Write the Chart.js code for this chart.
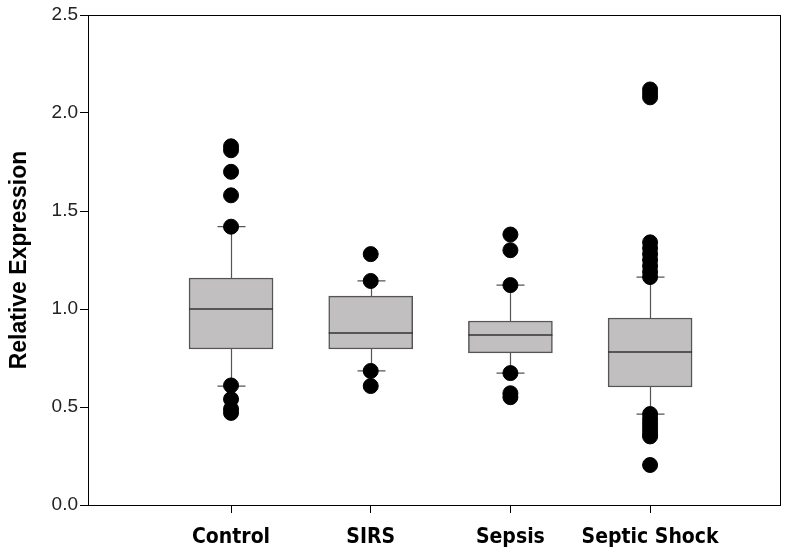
<!DOCTYPE html>
<html>
<head>
<meta charset="utf-8">
<script src="https://cdn.jsdelivr.net/npm/chart.js@4"></script>
<style>
  html, body { margin: 0; padding: 0; background: #ffffff; }
  #wrap { width: 800px; height: 556px; }
</style>
</head>
<body>
<div id="wrap"><canvas id="boxChart" width="800" height="556"></canvas></div>
<script>
// Box plot values
const categories = ['Control', 'SIRS', 'Sepsis', 'Septic Shock'];
const q1 = [0.796, 0.796, 0.776, 0.602];
const median = [1.0, 0.878, 0.867, 0.781];
const q3 = [1.158, 1.066, 0.939, 0.954];
const whiskerLow = [0.607, 0.684, 0.673, 0.464];
const whiskerHigh = [1.42, 1.143, 1.122, 1.163];
const outControl = [1.83, 1.81, 1.70, 1.58, 1.42, 0.61, 0.54, 0.49, 0.47];
const outSirs = [1.28, 1.143, 0.684, 0.607];
const outSepsis = [1.38, 1.30, 1.122, 0.673, 0.57, 0.55];
const outShock = [2.12, 2.10, 2.08, 1.34, 1.31, 1.28, 1.25, 1.22, 1.19, 1.163,
                  0.464, 0.44, 0.42, 0.40, 0.38, 0.36, 0.35, 0.204];
const yTicks = [0, 0.5, 1.0, 1.5, 2.0, 2.5];

const outliers = [outControl, outSirs, outSepsis, outShock];
const outlierPoints = [];
outliers.forEach((list, i) => {
  list.forEach(v => outlierPoints.push({ x: i + 1, y: v }));
});

const boxWidth = 84;
const capHalf = 14;

// whiskers under the boxes, medians and frame on top
const boxParts = {
  id: 'boxParts',
  beforeDatasetsDraw(chart) {
    const ctx = chart.ctx;
    const xs = chart.scales.x, ys = chart.scales.y;
    ctx.save();
    ctx.strokeStyle = '#555555';
    ctx.lineWidth = 1.2;
    categories.forEach((c, i) => {
      const px = Math.round(xs.getPixelForValue(i + 1)) + 0.5;
      const hi = ys.getPixelForValue(whiskerHigh[i]);
      const lo = ys.getPixelForValue(whiskerLow[i]);
      ctx.beginPath();
      ctx.moveTo(px, ys.getPixelForValue(q3[i]));
      ctx.lineTo(px, hi);
      ctx.moveTo(px, ys.getPixelForValue(q1[i]));
      ctx.lineTo(px, lo);
      ctx.moveTo(px - capHalf, hi);
      ctx.lineTo(px + capHalf, hi);
      ctx.moveTo(px - capHalf, lo);
      ctx.lineTo(px + capHalf, lo);
      ctx.stroke();
    });
    ctx.restore();
  },
  afterDatasetsDraw(chart) {
    const ctx = chart.ctx;
    const xs = chart.scales.x, ys = chart.scales.y;
    ctx.save();
    ctx.strokeStyle = '#333333';
    ctx.lineWidth = 1.5;
    categories.forEach((c, i) => {
      const px = xs.getPixelForValue(i + 1);
      const py = ys.getPixelForValue(median[i]);
      ctx.beginPath();
      ctx.moveTo(px - boxWidth / 2, py);
      ctx.lineTo(px + boxWidth / 2, py);
      ctx.stroke();
    });
    const a = chart.chartArea;
    ctx.strokeStyle = '#000000';
    ctx.lineWidth = 1;
    ctx.strokeRect(a.left + 0.5, a.top + 0.5, a.right - a.left, a.bottom - a.top);
    ctx.restore();
  }
};

const ctx = document.getElementById('boxChart');
new Chart(ctx, {
  data: {
    datasets: [
      {
        type: 'scatter',
        data: outlierPoints,
        backgroundColor: '#000000',
        borderColor: '#000000',
        pointRadius: 7.5,
        pointHoverRadius: 7.5
      },
      {
        type: 'bar',
        data: categories.map((c, i) => ({ x: i + 1, y: [q1[i], q3[i]] })),
        backgroundColor: '#c1bfc0',
        borderColor: '#555555',
        borderWidth: 1.5,
        borderSkipped: false,
        barThickness: boxWidth
      }
    ]
  },
  options: {
    responsive: false,
    animation: false,
    layout: { padding: { left: 0, right: 20, top: 15, bottom: 0 } },
    plugins: {
      legend: { display: false },
      tooltip: { enabled: false }
    },
    scales: {
      x: {
        type: 'linear',
        offset: false,
        min: -0.024,
        max: 4.93,
        afterBuildTicks: scale => {
          scale.ticks = categories.map((c, i) => ({ value: i + 1 }));
        },
        afterFit: scale => { scale.height = 51; },
        grid: {
          offset: false,
          drawOnChartArea: false,
          color: '#000000',
          tickLength: 8
        },
        border: { color: '#000000' },
        ticks: {
          color: '#000000',
          padding: 12,
          maxRotation: 0,
          autoSkip: false,
          font: { family: "'Liberation Sans Narrow', 'DejaVu Sans Condensed', 'Liberation Sans', Arial", size: 21, weight: 'bold' },
          callback: value => categories[value - 1]
        }
      },
      y: {
        type: 'linear',
        min: 0,
        max: 2.5,
        afterBuildTicks: scale => {
          scale.ticks = yTicks.map(v => ({ value: v }));
        },
        afterFit: scale => { scale.width = 88; },
        grid: {
          drawOnChartArea: false,
          color: '#000000',
          tickLength: 8
        },
        border: { color: '#000000' },
        ticks: {
          color: '#222222',
          padding: 2,
          font: { family: "'Liberation Sans', Arial", size: 19 },
          callback: value => value.toFixed(1)
        },
        title: {
          display: true,
          text: 'Relative Expression',
          color: '#000000',
          padding: { top: 6, bottom: 0 },
          font: { family: "'Liberation Sans', Arial", size: 23, weight: 'bold' }
        }
      }
    }
  },
  plugins: [boxParts]
});
</script>
</body>
</html>
